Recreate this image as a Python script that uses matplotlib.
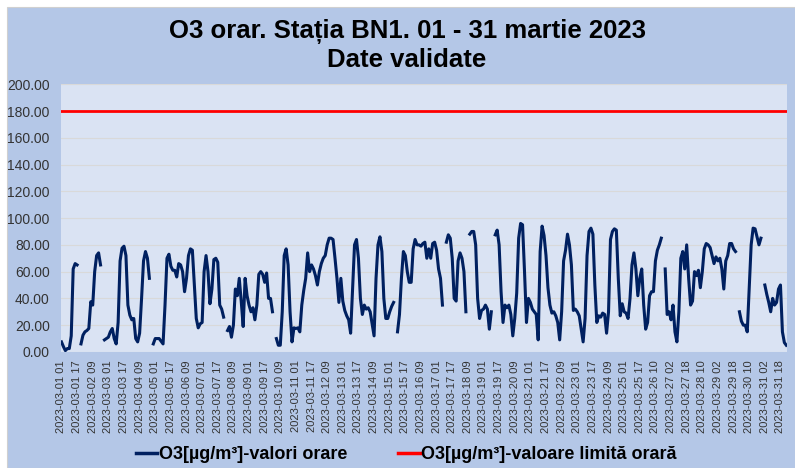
import numpy as np
import pandas as pd
import matplotlib
matplotlib.use("Agg")
import matplotlib.pyplot as plt
from matplotlib.patches import Rectangle
from matplotlib.lines import Line2D

plt.rcParams['font.family'] = ['Liberation Sans', 'DejaVu Sans']

nan = np.nan

# ore din martie 2023 (fara ora lipsa de la trecerea la ora de vara)
ore = pd.date_range('2023-03-01 01:00', '2023-04-01 00:00', freq='h')
ore = ore[ore != pd.Timestamp('2023-03-26 03:00')]
etichete = [t.strftime('%Y-%m-%d %H') for t in ore]

# valori O3 citite la fiecare 2 ore (ug/m3), cate un rand pe zi
o3 = [
    7.5, 4, 1, 2.5, 2.5, 12, 62, 66, 65, nan, 6, 12.5,
    15, 16, 17.5, 37.5, 35, 60, 72, 74, 65, nan, 9, 10,
    11, 15, 17.5, 10, 6, 22, 68, 77.5, 79, 72, 35, 27.5,
    24, 25, 10, 7.5, 14, 40, 68, 75, 70, 55, nan, 6,
    10, 10, 10, 8, 6, 35, 70, 73, 64, 61, 61, 56,
    66, 65, 60, 45, 55, 72, 77, 76, 50, 25, 18, 21,
    22, 60, 72, 60, 36, 47, 69, 70, 67, 35, 32, 26,
    nan, 16, 19, 11, 20, 47, 42, 55, 38, 19, 55, 42,
    35, 30, 33, 24, 35, 58, 60, 58, 52, 59, 40, 40,
    30, nan, 10, 5, 5, 30, 72, 77, 65, 30, 7.5, 18,
    17.5, 18, 15, 35, 46, 55, 74, 60, 65, 62, 57, 50,
    60, 66, 70, 72, 80, 85, 85, 84, 70, 55, 37, 55,
    38, 31, 27, 24, 14, 47, 80, 84, 70, 40, 28, 35,
    32, 33, 30, 21, 12, 55, 80, 86, 75, 40, 25, 25,
    30, 34, 37, nan, 15, 28, 55, 75, 72, 60, 52, 52,
    77, 84, 80, 80, 79, 81, 82, 70, 77, 70, 81, 82,
    76, 62, 55, 35, nan, 82, 87.5, 85, 70, 40, 38, 68,
    74, 70, 60, 30, nan, 88, 90, 90, 80, 40, 25, 31,
    32, 35, 32, 17, 30, nan, 87.5, 91, 80, 45, 22, 35,
    33, 35, 28, 12, 25, 44, 85, 96, 95, 60, 22, 40,
    37, 32, 30, 28, 9, 75, 94, 87, 72, 48, 35, 29,
    30, 27, 22, 9, 30, 68, 76, 88, 80, 65, 31, 32,
    30, 27, 17, 7.5, 25, 72, 90, 92.5, 88, 50, 22, 27,
    26, 29, 28, 14, 30, 84, 90, 92, 91, 55, 27, 36,
    30, 29, 25, 40, 65, 74, 62, 42, 55, 62, 35, 17,
    22, 42, 45, 45, 68, 76, 80, 85, nan, 62, 28, 30,
    24, 35, 15, 7.5, 30, 70, 75, 62, 80, 55, 35, 38,
    60, 57, 61, 48, 60, 77, 81, 80, 78, 72, 66, 71,
    68, 70, 62, 47, 68, 72, 81, 81, 77, 75, nan, 30,
    23, 20, 20, 15, 47, 80, 92.5, 92, 86, 80, 85, nan,
    50, 43, 37, 30, 40, 35, 37, 47, 50, 15, 7, 5,
]
limita = 180

n = len(ore)
x_o3 = np.arange(0, n, 2)

fig = plt.figure(figsize=(7.95, 4.68), dpi=100)
fig.patch.set_facecolor('white')
fig.patches.append(Rectangle((0.009, 0.0), 0.991, 0.984, transform=fig.transFigure,
                             facecolor='#B4C7E7', edgecolor='#D0D0D0', lw=0.8, zorder=-10))

ax = fig.add_axes([0.0767, 0.248, 0.913, 0.572])
ax.set_facecolor('#DAE3F3')
ax.plot(x_o3, o3, color='#002060', lw=2.2, solid_joinstyle='round')
ax.plot(np.arange(n), [limita] * n, color='#FF0000', lw=2.0)

ax.set_ylim(0, 200)
ax.set_xlim(-0.5, n - 0.5)
ax.set_yticks(np.arange(0, 201, 20))
ax.set_yticklabels(['%.2f' % v for v in np.arange(0, 201, 20)], fontsize=10, color='#333333')
ax.set_xticks(np.arange(0, n, 16))
ax.set_xticklabels(etichete[::16], rotation=90, fontsize=8, color='#333333')
ax.tick_params(length=0, pad=6)
ax.tick_params(axis='y', pad=8)
ax.grid(axis='y', color='#D9D9D9', lw=0.8)
ax.set_axisbelow(True)
for s in ax.spines.values():
    s.set_visible(False)

fig.text(0.512, 0.932, 'O3 orar. Stația BN1. 01 - 31 martie 2023', ha='center', va='center',
         fontsize=18.5, fontweight='bold')
fig.text(0.512, 0.872, 'Date validate', ha='center', va='center',
         fontsize=18.5, fontweight='bold')

handles = [Line2D([], [], color='#002060', lw=2.5),
           Line2D([], [], color='#FF0000', lw=2.5)]
fig.legend(handles, ['O3[µg/m³]-valori orare', 'O3[µg/m³]-valoare limită orară'],
           loc='center', bbox_to_anchor=(0.511, 0.028), ncol=2, frameon=False,
           prop={'weight': 'bold', 'size': 13}, handlelength=1.2, handletextpad=0.1,
           columnspacing=2.8)

fig.savefig('out.png', dpi=100, facecolor=fig.get_facecolor())
